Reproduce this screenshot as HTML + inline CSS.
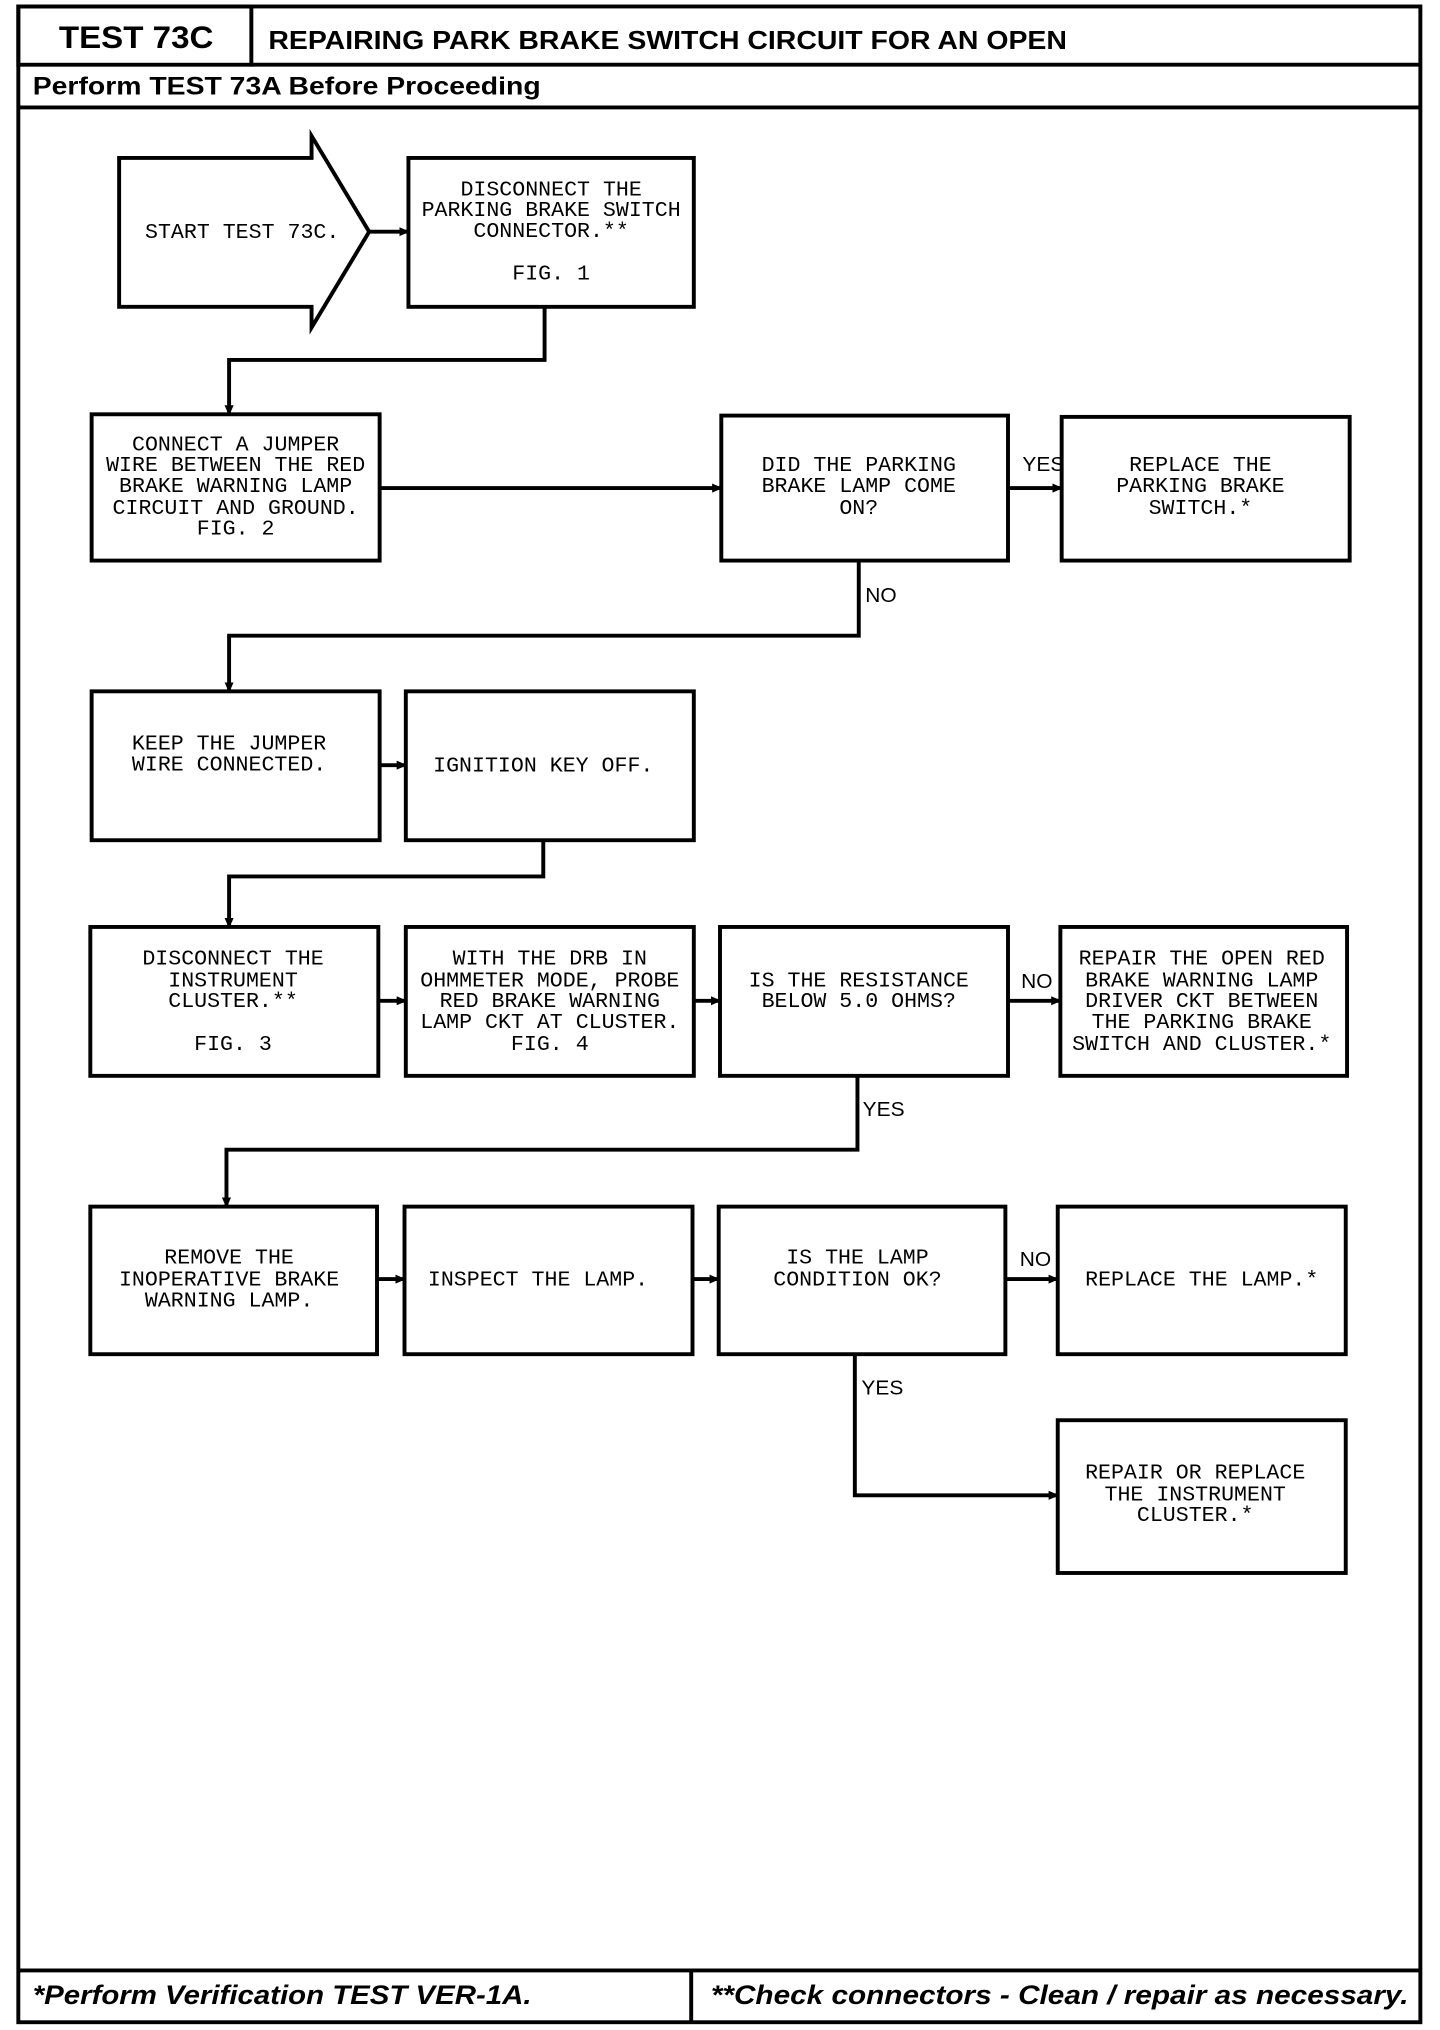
<!DOCTYPE html>
<html><head><meta charset="utf-8"><style>
html,body{margin:0;padding:0;background:#fff;}
svg{display:block;}
.m{font-family:"Liberation Mono",monospace;font-size:16.5px;text-anchor:middle;}
.l{font-family:"Liberation Sans",sans-serif;font-size:16px;}
.b{font-family:"Liberation Sans",sans-serif;font-weight:bold;}
</style></head><body>
<svg width="1440" height="2030" viewBox="0 0 1100 1568" preserveAspectRatio="none" xmlns="http://www.w3.org/2000/svg">
<defs><marker id="a" markerWidth="8" markerHeight="8" refX="7" refY="4" orient="auto" markerUnits="userSpaceOnUse"><path d="M0,0.5 L8,4 L0,7.5 Z" fill="#000"/></marker></defs>
<g fill="none" stroke="#000" stroke-width="3">
<rect x="14" y="5" width="1071" height="1557"/>
<rect x="14" y="5" width="178" height="45"/>
<line x1="192" y1="50" x2="1085" y2="50"/>
<line x1="14" y1="83" x2="1085" y2="83"/>
<line x1="14" y1="1522" x2="1085" y2="1522"/>
<line x1="528" y1="1522" x2="528" y2="1562"/>
<path d="M91,122 H238 V105 L282,179 L238,253 V237 H91 Z"/>
<rect x="312" y="122" width="218" height="115"/>
<rect x="70" y="320" width="220" height="113"/>
<rect x="551" y="321" width="219" height="112"/>
<rect x="811" y="322" width="220" height="111"/>
<rect x="70" y="534" width="220" height="115"/>
<rect x="310" y="534" width="220" height="115"/>
<rect x="69" y="716" width="220" height="115"/>
<rect x="310" y="716" width="220" height="115"/>
<rect x="550" y="716" width="220" height="115"/>
<rect x="810" y="716" width="219" height="115"/>
<rect x="69" y="932" width="219" height="114"/>
<rect x="309" y="932" width="220" height="114"/>
<rect x="549" y="932" width="219" height="114"/>
<rect x="808" y="932" width="220" height="114"/>
<rect x="808" y="1097" width="220" height="118"/>
</g>
<g fill="none" stroke="#000" stroke-width="3" marker-end="url(#a)">
<line x1="282" y1="179" x2="312" y2="179"/>
<path d="M416,237 V278 H175 V320"/>
<line x1="290" y1="377" x2="551" y2="377"/>
<line x1="770" y1="377" x2="811" y2="377"/>
<path d="M656,433 V491 H175 V534"/>
<line x1="290" y1="591" x2="310" y2="591"/>
<path d="M415,649 V677 H175 V716"/>
<line x1="289" y1="773" x2="310" y2="773"/>
<line x1="530" y1="773" x2="550" y2="773"/>
<line x1="770" y1="773" x2="810" y2="773"/>
<path d="M655,831 V888 H173 V932"/>
<line x1="288" y1="988" x2="309" y2="988"/>
<line x1="529" y1="988" x2="549" y2="988"/>
<line x1="768" y1="988" x2="808" y2="988"/>
<path d="M653,1046 V1155 H808"/>
</g>
<text class="b" x="45" y="37" font-size="24" textLength="118" lengthAdjust="spacingAndGlyphs">TEST 73C</text>
<text class="b" x="205" y="38" font-size="20" textLength="610" lengthAdjust="spacingAndGlyphs">REPAIRING PARK BRAKE SWITCH CIRCUIT FOR AN OPEN</text>
<text class="b" x="25" y="73" font-size="19" textLength="388" lengthAdjust="spacingAndGlyphs">Perform TEST 73A Before Proceeding</text>
<text class="b" x="25" y="1548" font-size="21" font-style="italic" textLength="381" lengthAdjust="spacingAndGlyphs">*Perform Verification TEST VER-1A.</text>
<text class="b" x="543" y="1548" font-size="21" font-style="italic" textLength="533" lengthAdjust="spacingAndGlyphs">**Check connectors - Clean / repair as necessary.</text>
<g class="m">
<text x="185" y="184">START TEST 73C.</text>
<text x="421" y="151">DISCONNECT THE</text>
<text x="421" y="167">PARKING BRAKE SWITCH</text>
<text x="421" y="183">CONNECTOR.**</text>
<text x="421" y="216">FIG. 1</text>
<text x="180" y="348">CONNECT A JUMPER</text>
<text x="180" y="364">WIRE BETWEEN THE RED</text>
<text x="180" y="380">BRAKE WARNING LAMP</text>
<text x="180" y="397">CIRCUIT AND GROUND.</text>
<text x="180" y="413">FIG. 2</text>
<text x="656" y="364">DID THE PARKING</text>
<text x="656" y="380">BRAKE LAMP COME</text>
<text x="656" y="397">ON?</text>
<text x="917" y="364">REPLACE THE</text>
<text x="917" y="380">PARKING BRAKE</text>
<text x="917" y="397">SWITCH.*</text>
<text x="175" y="579">KEEP THE JUMPER</text>
<text x="175" y="595">WIRE CONNECTED.</text>
<text x="415" y="596">IGNITION KEY OFF.</text>
<text x="178" y="745">DISCONNECT THE</text>
<text x="178" y="762">INSTRUMENT</text>
<text x="178" y="778">CLUSTER.**</text>
<text x="178" y="811">FIG. 3</text>
<text x="420" y="745">WITH THE DRB IN</text>
<text x="420" y="762">OHMMETER MODE, PROBE</text>
<text x="420" y="778">RED BRAKE WARNING</text>
<text x="420" y="794">LAMP CKT AT CLUSTER.</text>
<text x="420" y="811">FIG. 4</text>
<text x="656" y="762">IS THE RESISTANCE</text>
<text x="656" y="778">BELOW 5.0 OHMS?</text>
<text x="918" y="745">REPAIR THE OPEN RED</text>
<text x="918" y="762">BRAKE WARNING LAMP</text>
<text x="918" y="778">DRIVER CKT BETWEEN</text>
<text x="918" y="794">THE PARKING BRAKE</text>
<text x="918" y="811">SWITCH AND CLUSTER.*</text>
<text x="175" y="976">REMOVE THE</text>
<text x="175" y="993">INOPERATIVE BRAKE</text>
<text x="175" y="1009">WARNING LAMP.</text>
<text x="411" y="993">INSPECT THE LAMP.</text>
<text x="655" y="976">IS THE LAMP</text>
<text x="655" y="993">CONDITION OK?</text>
<text x="918" y="993">REPLACE THE LAMP.*</text>
<text x="913" y="1142">REPAIR OR REPLACE</text>
<text x="913" y="1159">THE INSTRUMENT</text>
<text x="913" y="1175">CLUSTER.*</text>
</g>
<g class="l">
<text x="781" y="364">YES</text>
<text x="661" y="465">NO</text>
<text x="780" y="763">NO</text>
<text x="659" y="862">YES</text>
<text x="779" y="978">NO</text>
<text x="658" y="1077">YES</text>
</g>
</svg>
</body></html>
